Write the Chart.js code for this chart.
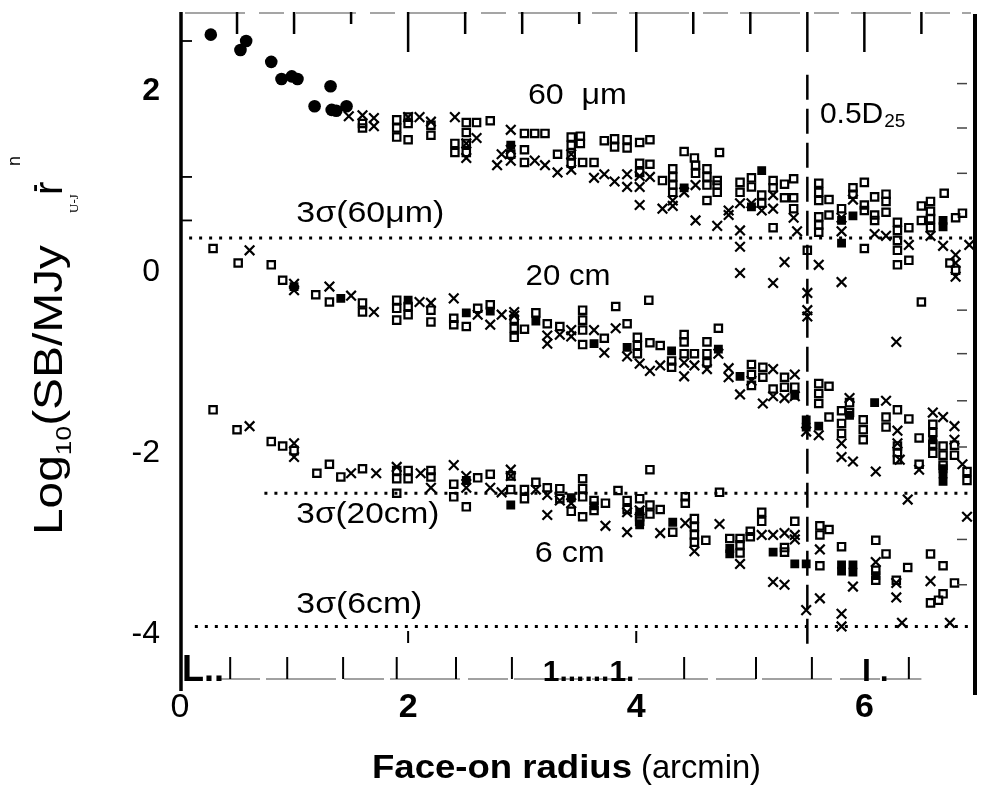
<!DOCTYPE html>
<html><head><meta charset="utf-8">
<script src="https://cdn.jsdelivr.net/npm/chart.js@4.4.1/dist/chart.umd.min.js"></script>
<style>html,body{margin:0;padding:0;background:#fff;}#wrap{width:984px;height:795px;}</style>
</head><body><div id="wrap"><canvas id="c" width="984" height="795"></canvas></div>
<script>
// ---------- axis ticks ----------
const xTicks = [0, 2, 4, 6];
const yTicks = [-4, -2, 0, 2];
const xRange = [0, 6.97];
const yRange = [-4.49, 2.87];
const topTickPos = [0.5, 1, 1.5, 2, 2.5, 3, 3.5, 4, 4.5, 5, 5.5, 6, 6.5];
const bottomTickPos = [0.44, 0.94, 1.43, 1.9, 2.42, 2.91, 4.42, 5.05, 5.54, 6.39];
const leftTickPos = [2.55, 1.05, 0.57];
const rightTickPos = [2.08, 1.59, 1.09, -0.42, -0.9, -1.42, -1.93, -2.95, -3.45];

// ---------- 3 sigma levels and 0.5 D25 ----------
const sigmaLevels = [0.375, -2.44, -3.91];
const sigmaStart = [0.08, 0.74, 0.13];
const sigmaEnd = [6.97, 6.97, 6.97];
const halfD25 = 5.5;
const halfD25Span = [-4.1, 2.2];

// ---------- 60 micron ----------
const fir60Dots = [[0.27,2.62],[0.53,2.45],[0.58,2.55],[0.80,2.32],[0.89,2.13],[0.98,2.16],[1.03,2.13],[1.18,1.83],[1.32,2.05],[1.33,1.79],[1.37,1.78],[1.46,1.83]];
const fir60Squares = [[1.60,1.59],[1.60,1.64],[1.90,1.68],[1.90,1.59],[1.90,1.49],[2.00,1.71],[2.00,1.64],[2.00,1.46],[2.20,1.62],[2.20,1.51],[2.41,1.42],[2.41,1.32],[2.51,1.65],[2.51,1.54],[2.51,1.42],[2.51,1.32],[2.60,1.65],[2.72,1.67],[2.90,1.30],[3.02,1.35],[3.02,1.21],[3.02,1.53],[3.11,1.53],[3.20,1.53],[3.31,1.30],[3.43,1.49],[3.43,1.40],[3.43,1.29],[3.43,1.20],[3.51,1.50],[3.51,1.42],[3.53,1.21],[3.63,1.21],[3.72,1.45],[3.81,1.47],[3.81,1.38],[3.92,1.46],[3.92,1.37],[4.03,1.43],[4.03,1.20],[4.03,1.10],[4.12,1.46],[4.12,1.19],[4.23,1.01],[4.32,1.14],[4.32,1.05],[4.32,0.96],[4.32,0.88],[4.42,1.33],[4.51,1.26],[4.52,1.18],[4.52,1.09],[4.62,1.14],[4.62,1.05],[4.62,0.96],[4.62,0.79],[4.71,1.01],[4.71,0.96],[4.71,0.88],[4.73,1.32],[4.91,0.99],[4.91,0.88],[5.01,1.04],[5.01,0.94],[5.10,0.85],[5.10,0.76],[5.20,1.01],[5.20,0.93],[5.20,0.49],[5.30,0.97],[5.30,0.82],[5.38,1.03],[5.38,0.82],[5.38,0.70],[5.50,0.24],[5.60,0.98],[5.60,0.88],[5.60,0.79],[5.60,0.61],[5.60,0.52],[5.60,0.44],[5.69,0.80],[5.69,0.63],[5.80,0.70],[5.90,0.93],[5.90,0.86],[6.00,0.99],[6.00,0.74],[6.00,0.68],[6.00,0.26],[6.09,0.83],[6.09,0.63],[6.09,0.57],[6.19,0.86],[6.19,0.78],[6.19,0.66],[6.29,0.55],[6.29,0.46],[6.29,0.35],[6.29,0.24],[6.29,0.08],[6.39,0.49],[6.39,0.13],[6.50,0.73],[6.50,0.57],[6.50,-0.33],[6.58,0.78],[6.58,0.67],[6.58,0.59],[6.58,0.49],[6.70,0.87],[6.80,0.60],[6.80,0.02],[6.86,0.65]];
const fir60Crosses = [[1.48,1.72],[1.60,1.73],[1.70,1.70],[1.70,1.61],[2.00,1.71],[2.10,1.71],[2.20,1.66],[2.41,1.71],[2.51,1.42],[2.51,1.26],[2.60,1.48],[2.78,1.18],[2.82,1.30],[2.90,1.57],[2.90,1.35],[2.90,1.23],[3.11,1.23],[3.20,1.18],[3.31,1.10],[3.43,1.30],[3.43,1.13],[3.63,1.04],[3.72,1.08],[3.81,1.00],[3.92,1.08],[3.92,0.94],[4.03,1.06],[4.03,0.94],[4.03,0.74],[4.12,1.05],[4.23,0.70],[4.32,0.79],[4.32,0.73],[4.42,0.88],[4.52,0.96],[4.52,0.57],[4.71,0.51],[4.81,0.68],[4.81,0.63],[4.91,0.76],[4.91,0.46],[4.91,0.28],[4.91,-0.01],[5.01,0.76],[5.10,0.68],[5.20,0.85],[5.20,0.70],[5.20,-0.12],[5.30,0.11],[5.38,0.60],[5.41,0.45],[5.60,0.08],[5.80,0.60],[5.80,0.45],[5.80,-0.11],[5.90,0.80],[6.09,0.42],[6.19,0.40],[6.39,0.30],[6.58,0.40],[6.69,0.29],[6.80,0.19],[6.80,-0.05],[6.92,0.30]];
const fir60Solid = [[2.90,1.40],[4.42,0.93],[5.01,0.72],[5.10,1.12],[5.80,0.57],[5.80,0.32],[5.90,0.62],[6.69,0.57],[6.69,0.50]];

// ---------- 20 cm ----------
const cm20Squares = [[0.29,0.26],[0.51,0.10],[0.80,0.08],[0.90,-0.09],[1.19,-0.25],[1.31,-0.33],[1.60,-0.34],[1.60,-0.44],[1.90,-0.31],[1.90,-0.40],[1.90,-0.53],[2.00,-0.47],[2.00,-0.38],[2.20,-0.42],[2.20,-0.55],[2.40,-0.51],[2.40,-0.58],[2.51,-0.60],[2.61,-0.40],[2.72,-0.36],[2.93,-0.52],[2.93,-0.62],[2.93,-0.72],[3.02,-0.63],[3.12,-0.45],[3.22,-0.57],[3.33,-0.60],[3.53,-0.42],[3.53,-0.53],[3.53,-0.64],[3.53,-0.80],[3.72,-0.73],[3.82,-0.38],[3.92,-0.57],[4.01,-0.72],[4.01,-0.81],[4.01,-0.90],[4.11,-0.31],[4.12,-0.78],[4.21,-0.81],[4.31,-0.98],[4.31,-1.05],[4.42,-0.69],[4.42,-0.77],[4.42,-0.90],[4.51,-0.90],[4.62,-0.77],[4.62,-0.90],[4.62,-1.00],[4.72,-0.62],[5.01,-1.02],[5.01,-1.13],[5.01,-1.25],[5.11,-1.05],[5.11,-1.16],[5.20,-1.29],[5.30,-1.16],[5.30,-1.27],[5.39,-1.27],[5.60,-1.23],[5.60,-1.34],[5.60,-1.45],[5.69,-1.26],[5.69,-1.60],[5.80,-1.53],[5.80,-1.67],[5.80,-1.78],[5.87,-1.44],[5.87,-1.55],[5.99,-1.63],[5.99,-1.74],[5.99,-1.85],[6.19,-1.60],[6.19,-1.71],[6.29,-1.52],[6.29,-1.92],[6.29,-1.99],[6.29,-2.07],[6.39,-1.62],[6.48,-1.83],[6.48,-2.12],[6.60,-1.68],[6.60,-1.77],[6.60,-1.90],[6.60,-2.00],[6.69,-1.92],[6.69,-2.02],[6.69,-2.13],[6.79,-1.91],[6.79,-2.02],[6.90,-2.20],[6.90,-2.30],[6.75,0.10]];
const cm20Crosses = [[0.61,0.24],[1.00,-0.13],[1.00,-0.20],[1.31,-0.16],[1.50,-0.26],[1.70,-0.44],[2.10,-0.33],[2.20,-0.34],[2.40,-0.29],[2.61,-0.47],[2.72,-0.58],[2.82,-0.47],[2.93,-0.44],[2.93,-0.48],[3.22,-0.70],[3.22,-0.79],[3.33,-0.69],[3.43,-0.64],[3.43,-0.71],[3.63,-0.64],[3.72,-0.89],[3.82,-0.62],[3.92,-0.93],[4.03,-1.01],[4.12,-1.09],[4.21,-1.03],[4.42,-1.00],[4.42,-1.15],[4.51,-1.03],[4.62,-1.07],[4.72,-0.90],[4.81,-1.06],[4.81,-1.16],[4.91,-1.35],[5.01,-1.20],[5.11,-1.45],[5.20,-1.07],[5.20,-1.37],[5.30,-1.39],[5.39,-1.13],[5.39,-1.37],[5.50,-0.23],[5.50,-0.42],[5.50,-0.49],[5.49,-1.76],[5.60,-1.80],[5.80,-1.89],[5.80,-2.04],[5.87,-1.39],[5.90,-2.09],[6.10,-2.20],[6.19,-1.42],[6.28,-0.77],[6.29,-1.75],[6.29,-1.89],[6.31,-2.07],[6.38,-2.51],[6.48,-2.18],[6.60,-1.55],[6.69,-1.60],[6.79,-1.70],[6.79,-1.85],[6.86,-2.12],[6.90,-2.70],[6.80,0.10]];
const cm20Solid = [[1.00,-0.16],[1.41,-0.29],[2.00,-0.31],[2.51,-0.45],[2.72,-0.43],[3.12,-0.54],[3.63,-0.79],[3.92,-0.83],[4.31,-0.87],[4.72,-0.85],[4.91,-1.15],[5.39,-1.36],[5.49,-1.63],[5.49,-1.71],[5.60,-1.70],[5.87,-1.58],[6.09,-1.44],[6.60,-1.85],[6.69,-2.17],[6.69,-2.23],[6.69,-2.31]];

// ---------- 6 cm ----------
const cm6Squares = [[0.29,-1.52],[0.50,-1.74],[0.80,-1.87],[0.90,-1.92],[1.00,-1.97],[1.20,-2.22],[1.31,-2.12],[1.41,-2.26],[1.60,-2.17],[1.90,-2.19],[1.90,-2.28],[1.90,-2.44],[2.00,-2.19],[2.00,-2.28],[2.20,-2.19],[2.20,-2.26],[2.40,-2.34],[2.40,-2.48],[2.51,-2.59],[2.61,-2.27],[2.72,-2.23],[2.90,-2.25],[2.90,-2.40],[3.02,-2.40],[3.02,-2.50],[3.12,-2.32],[3.22,-2.38],[3.33,-2.39],[3.33,-2.50],[3.43,-2.64],[3.53,-2.28],[3.53,-2.39],[3.53,-2.48],[3.53,-2.70],[3.63,-2.52],[3.63,-2.63],[3.73,-2.55],[3.84,-2.41],[3.92,-2.52],[3.92,-2.62],[4.03,-2.50],[4.03,-2.70],[4.03,-2.75],[4.12,-2.18],[4.12,-2.57],[4.12,-2.67],[4.21,-2.62],[4.32,-2.87],[4.43,-2.48],[4.43,-2.55],[4.51,-2.72],[4.51,-2.81],[4.51,-2.90],[4.51,-2.98],[4.61,-2.96],[4.73,-2.43],[4.82,-2.94],[4.91,-2.94],[4.91,-3.01],[4.91,-3.10],[5.00,-2.86],[5.00,-2.92],[5.10,-2.65],[5.10,-2.75],[5.30,-3.04],[5.30,-3.09],[5.39,-2.75],[5.61,-2.80],[5.61,-2.90],[5.61,-3.24],[5.69,-2.84],[5.80,-3.03],[6.10,-2.96],[6.10,-3.29],[6.10,-3.40],[6.19,-3.11],[6.28,-3.40],[6.38,-3.26],[6.58,-3.11],[6.58,-3.65],[6.69,-3.24],[6.69,-3.55],[6.65,-3.62],[6.79,-3.43]];
const cm6Crosses = [[0.61,-1.70],[1.00,-1.89],[1.00,-2.04],[1.50,-2.22],[1.72,-2.22],[1.90,-2.15],[2.11,-2.22],[2.20,-2.38],[2.40,-2.13],[2.51,-2.25],[2.51,-2.38],[2.72,-2.38],[2.82,-2.43],[2.90,-2.18],[2.90,-2.25],[3.12,-2.40],[3.22,-2.46],[3.22,-2.68],[3.33,-2.52],[3.43,-2.55],[3.73,-2.80],[3.92,-2.65],[3.92,-2.87],[4.03,-2.63],[4.21,-2.88],[4.43,-2.77],[4.51,-3.08],[4.73,-2.78],[4.91,-3.22],[5.10,-2.90],[5.20,-2.90],[5.20,-3.42],[5.30,-2.88],[5.30,-3.45],[5.39,-2.90],[5.39,-2.95],[5.49,-3.73],[5.61,-3.06],[5.61,-3.60],[5.80,-3.77],[5.80,-3.91],[5.90,-3.47],[6.10,-3.20],[6.28,-3.43],[6.28,-3.59],[6.33,-3.87],[6.58,-3.41],[6.75,-3.87]];
const cm6Solid = [[2.51,-2.30],[2.90,-2.57],[3.43,-2.49],[3.63,-2.58],[4.03,-2.65],[4.03,-2.79],[4.32,-2.76],[4.82,-3.05],[4.82,-3.11],[5.20,-3.09],[5.39,-3.22],[5.49,-3.22],[5.80,-3.23],[5.80,-3.30],[5.90,-3.23],[5.90,-3.31],[6.10,-3.35]];

// ---------- labels ----------
const bandLabels = [
  {text:'60  \u03bcm', r:3.05, v:1.85, size:30, w:99},
  {text:'3\u03c3(60\u03bcm)', r:1.02, v:0.55, size:30, w:148},
  {text:'20 cm', r:3.03, v:-0.14, size:30, w:85},
  {text:'3\u03c3(20cm)', r:1.02, v:-2.77, size:30, w:143},
  {text:'6 cm', r:3.11, v:-3.20, size:30, w:70},
  {text:'3\u03c3(6cm)', r:1.02, v:-3.76, size:30, w:126}
];

const FONT = '"Liberation Sans", Arial, Helvetica, sans-serif';
const toPts = a => a.map(p => ({x:p[0], y:p[1]}));

const datasets = [];
sigmaLevels.forEach((lv, i) => {
  datasets.push({data:[{x:sigmaStart[i], y:lv},{x:sigmaEnd[i], y:lv}], showLine:true, pointRadius:0,
    borderColor:'#000', borderWidth:3, borderDash:[3,7], fill:false});
});
datasets.push({data:[{x:halfD25, y:halfD25Span[0]},{x:halfD25, y:halfD25Span[1]}], showLine:true, pointRadius:0,
  borderColor:'#000', borderWidth:2.5, borderDash:[25,9], fill:false});
const sq = d => ({data:toPts(d), pointStyle:'rect', pointRadius:5.2, borderWidth:2.2, borderColor:'#000', backgroundColor:'rgba(0,0,0,0)'});
const cr = d => ({data:toPts(d), pointStyle:'crossRot', pointRadius:6.8, borderWidth:2.2, borderColor:'#000', backgroundColor:'#000'});
const so = d => ({data:toPts(d), pointStyle:'rect', pointRadius:5.2, borderWidth:1.5, borderColor:'#000', backgroundColor:'#000'});
datasets.push(sq(fir60Squares), cr(fir60Crosses), so(fir60Solid));
datasets.push(sq(cm20Squares), cr(cm20Crosses), so(cm20Solid));
datasets.push(sq(cm6Squares), cr(cm6Crosses), so(cm6Solid));
datasets.push({data:toPts(fir60Dots), pointStyle:'circle', pointRadius:6.3, borderWidth:0, borderColor:'#000', backgroundColor:'#000'});

const decor = {
  id:'decor',
  beforeDraw(chart){
    const c = chart.ctx; c.save(); c.fillStyle='#fff'; c.fillRect(0,0,chart.width,chart.height); c.restore();
  },
  afterDatasetsDraw(chart){
    const c = chart.ctx, xs = chart.scales.x, ys = chart.scales.y, a = chart.chartArea;
    c.save();
    c.strokeStyle='#000'; c.fillStyle='#000';
    // left & right frame
    c.lineWidth=3.5; c.beginPath(); c.moveTo(a.left+1, a.top); c.lineTo(a.left+1, a.bottom+12); c.stroke();
    c.lineWidth=4; c.beginPath(); c.moveTo(a.right, a.top+2); c.lineTo(a.right, a.bottom+16); c.stroke();
    // top border (faint, broken)
    c.strokeStyle='#888'; c.lineWidth=1.3; c.setLineDash([60,14,25,12]);
    c.beginPath(); c.moveTo(a.left+5, a.top+1); c.lineTo(a.right-4, a.top+1); c.stroke();
    // bottom border
    c.strokeStyle='#444'; c.lineWidth=1.2; c.setLineDash([40,6,70,8]);
    c.beginPath(); c.moveTo(a.left+40, a.bottom); c.lineTo(xs.getPixelForValue(6.5), a.bottom); c.stroke();
    c.setLineDash([]); c.strokeStyle='#000';
    // top ticks
    c.lineWidth=2.5;
    topTickPos.forEach(t => {
      const px = xs.getPixelForValue(t);
      const len = (t % 2 === 0 || t === 5.5) ? 40 : (t === 1.5 || t === 3.5 ? 12 : 22);
      c.beginPath(); c.moveTo(px, a.top); c.lineTo(px, a.top+len); c.stroke();
    });
    // bottom ticks
    c.lineWidth=2;
    bottomTickPos.forEach(t => {
      const px = xs.getPixelForValue(t);
      c.beginPath(); c.moveTo(px, a.bottom); c.lineTo(px, a.bottom-22); c.stroke();
    });
    [2, 4].forEach(t => {
      const px = xs.getPixelForValue(t);
      c.beginPath(); c.moveTo(px, a.bottom-36); c.lineTo(px, a.bottom-48); c.stroke();
    });
    // left / right inner ticks
    c.lineWidth=1.8;
    leftTickPos.forEach(t => { const py = ys.getPixelForValue(t); c.beginPath(); c.moveTo(a.left+2, py); c.lineTo(a.left+12, py); c.stroke(); });
    c.strokeStyle='#444'; c.lineWidth=1.5;
    rightTickPos.forEach(t => { const py = ys.getPixelForValue(t); c.beginPath(); c.moveTo(a.right-8, py); c.lineTo(a.right-18, py); c.stroke(); });
    c.strokeStyle='#000';
    // band labels
    c.textBaseline='alphabetic'; c.textAlign='left';
    bandLabels.forEach(L => {
      c.font = L.size + 'px ' + FONT;
      const m = c.measureText(L.text).width;
      c.save(); c.translate(xs.getPixelForValue(L.r), ys.getPixelForValue(L.v)); c.scale(L.w/m, 1);
      c.fillText(L.text, 0, 0); c.restore();
    });
    // 0.5 D25
    const dx = xs.getPixelForValue(5.61), dy = ys.getPixelForValue(1.65);
    c.font = '30px ' + FONT; c.fillText('0.5D', dx, dy);
    const dw = c.measureText('0.5D').width;
    c.font = '19px ' + FONT; c.fillText('25', dx+dw+1, dy+4);
    // bottom scan remnants
    c.font = 'bold 36px ' + FONT; c.fillText('L..', a.left+2, a.bottom+2);
    c.font = 'bold 30px ' + FONT; c.fillText('1......1.', xs.getPixelForValue(3.18), a.bottom+2);
    c.font = 'bold 32px ' + FONT; c.fillText('I .', xs.getPixelForValue(5.98), a.bottom+2);
    c.restore();

    // y title
    c.save();
    c.translate(62, 535); c.rotate(-Math.PI/2); c.fillStyle='#000'; c.textBaseline='alphabetic'; c.textAlign='left';
    const parts = [['Log',40,0],['10',22,9],['(SB/MJy',40,0]];
    let tot = 0; parts.forEach(p => { c.font = p[1]+'px '+FONT; tot += c.measureText(p[0]).width; });
    c.save(); c.scale(290/tot, 1);
    let x = 0; parts.forEach(p => { c.font = p[1]+'px '+FONT; c.fillText(p[0], x, p[2]); x += c.measureText(p[0]).width; });
    c.restore();
    c.font = '13px "Liberation Serif", serif'; c.fillText('U-J', 322, 16);
    c.font = '40px ' + FONT; c.fillText('r', 340, 0);
    c.font = 'bold 24px ' + FONT; c.fillText('-', 343, -20);
    c.font = '18px ' + FONT; c.fillText('n', 369, -42);
    c.restore();

    // x title
    c.save(); c.fillStyle='#000'; c.textBaseline='alphabetic'; c.textAlign='left';
    c.font = 'bold 34px ' + FONT;
    const t1 = 'Face-on radius', m1 = c.measureText(t1).width;
    c.save(); c.translate(372, 778); c.scale(260/m1, 1); c.fillText(t1, 0, 0); c.restore();
    c.font = '34px ' + FONT;
    const t2 = '(arcmin)', m2 = c.measureText(t2).width;
    c.save(); c.translate(641, 778); c.scale(120/m2, 1); c.fillText(t2, 0, 0); c.restore();
    c.restore();
  }
};

new Chart(document.getElementById('c'), {
  type:'scatter',
  data:{datasets},
  options:{
    responsive:false, animation:false, devicePixelRatio:1,
    layout:{padding:{left:0, right:4, top:12, bottom:0}},
    plugins:{legend:{display:false}, tooltip:{enabled:false}},
    scales:{
      x:{type:'linear', min:xRange[0], max:xRange[1],
        grid:{display:false, drawTicks:false}, border:{display:false},
        afterBuildTicks:s => { s.ticks = xTicks.map(v => ({value:v})); },
        afterFit:s => { s.height = 116; s.paddingLeft = 0; s.paddingRight = 0; },
        ticks:{padding:8, color:'#000', maxRotation:0, autoSkip:false,
          font:ctx => ({family:FONT, size:34, weight: (ctx.tick && ctx.tick.value !== 0) ? 'bold' : 'normal'})}},
      y:{type:'linear', min:yRange[0], max:yRange[1],
        grid:{display:false, drawTicks:false}, border:{display:false},
        afterBuildTicks:s => { s.ticks = yTicks.map(v => ({value:v})); },
        afterFit:s => { s.width = 180; s.paddingTop = 0; s.paddingBottom = 0; },
        ticks:{padding:20, color:'#000', autoSkip:false,
          font:ctx => ({family:FONT, size:32, weight: (ctx.tick && ctx.tick.value === 2) ? 'bold' : 'normal'})}}
    }
  },
  plugins:[decor]
});
</script></body></html>
